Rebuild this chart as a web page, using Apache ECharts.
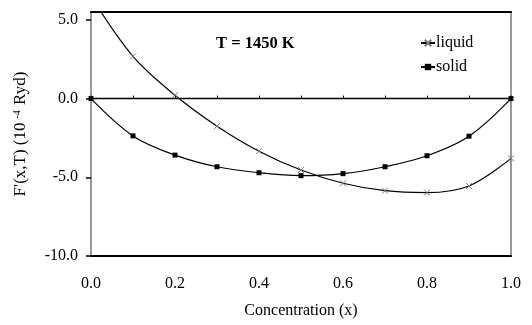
<!DOCTYPE html>
<html><head><meta charset="utf-8">
<script src="https://cdn.jsdelivr.net/npm/echarts@6/dist/echarts.min.js"></script>
<style>html,body{margin:0;padding:0;background:#fff}#c{width:532px;height:325px}</style>
</head><body><div id="c"></div>
<script>
var xValues = [0, 0.1, 0.2, 0.3, 0.4, 0.5, 0.6, 0.7, 0.8, 0.9, 1.0];
var liquid = [6.5, 2.68, 0.21, -1.75, -3.34, -4.54, -5.38, -5.85, -5.97, -5.55, -3.8];
var solid = [0, -2.37, -3.59, -4.33, -4.71, -4.9, -4.77, -4.33, -3.63, -2.39, 0];
var yTicks = [-10, -5, 0, 5];
var xTickLabels = [0, 0.2, 0.4, 0.6, 0.8, 1.0];

var FONT = 'Liberation Serif';
function pairs(ys){ return xValues.map(function(x,i){ return [x, ys[i]]; }); }

var chart = echarts.init(document.getElementById('c'), null, {renderer:'canvas'});
chart.setOption({
  animation: false,
  backgroundColor: '#fff',
  title: {
    text: 'T = 1450 K', left: 211, top: 30,
    textStyle: {fontFamily: FONT, fontWeight: 'bold', fontSize: 16.5, color: '#000'}
  },
  legend: {
    orient: 'vertical', left: 415, top: 30, itemGap: 8,
    itemWidth: 14, itemHeight: 8,
    textStyle: {fontFamily: FONT, fontSize: 16, color: '#000', padding: [0,0,0,-4]},
    data: ['liquid', 'solid']
  },
  grid: {left: 91, right: 21, top: 12, bottom: 69, show: true, borderColor: '#999', borderWidth: 2, containLabel: false},
  xAxis: [
    {
      type: 'value', min: 0, max: 1, interval: 0.2, position: 'bottom',
      axisLine: {onZero: false, lineStyle: {color: '#000', width: 2}},
      axisTick: {show: false},
      splitLine: {show: false},
      axisLabel: {customValues: xTickLabels, margin: 20, fontFamily: FONT, fontSize: 16, color: '#000', formatter: function(v){ return v.toFixed(1); }},
      name: 'Concentration (x)', nameLocation: 'middle', nameGap: 47,
      nameTextStyle: {fontFamily: FONT, fontSize: 16, color: '#000'}
    },
    {
      type: 'value', min: 0, max: 1, interval: 0.1, position: 'top',
      axisLine: {onZero: false, lineStyle: {color: '#000', width: 2}},
      axisTick: {show: false}, axisLabel: {show: false}, splitLine: {show: false}
    },
    {
      type: 'value', min: 0, max: 1, interval: 0.1, position: 'bottom',
      axisLine: {onZero: true, lineStyle: {color: '#000', width: 1.3}},
      axisTick: {show: true, inside: true, length: 3, lineStyle: {color: '#000'}},
      axisLabel: {show: false}, splitLine: {show: false}
    }
  ],
  yAxis: {
    type: 'value', min: -10, max: 5.5, interval: 5,
    axisLine: {show: true, lineStyle: {color: '#999', width: 2}},
    axisTick: {show: true, customValues: yTicks, length: 5, lineStyle: {color: '#000', width: 1.5}},
    splitLine: {show: false},
    axisLabel: {customValues: yTicks, margin: 13, fontFamily: FONT, fontSize: 16, color: '#000', formatter: function(v){ return v.toFixed(1); }},
    name: "F'(x,T) (10{s|-4} Ryd)", nameLocation: 'middle', nameGap: 62, nameRotate: 90,
    nameTextStyle: {fontFamily: FONT, fontSize: 17, color: '#000', rich: {s: {fontFamily: FONT, fontSize: 10, color: '#000', verticalAlign: 'top', padding:[0,1,7,4]}}}
  },
  series: [
    {
      name: 'liquid', type: 'line', xAxisIndex: 0, data: pairs(liquid), smooth: 0.35,
      symbol: 'path://M0,0L10,10M10,0L0,10', symbolSize: 6,
      lineStyle: {color: '#000', width: 1.2},
      itemStyle: {color: 'transparent', borderColor: '#777', borderWidth: 1},
      clip: true
    },
    {
      name: 'solid', type: 'line', xAxisIndex: 0, data: pairs(solid), smooth: 0.35,
      symbol: 'rect', symbolSize: 5,
      lineStyle: {color: '#000', width: 1.2},
      itemStyle: {color: '#000'},
      clip: true
    }
  ]
});
</script></body></html>
